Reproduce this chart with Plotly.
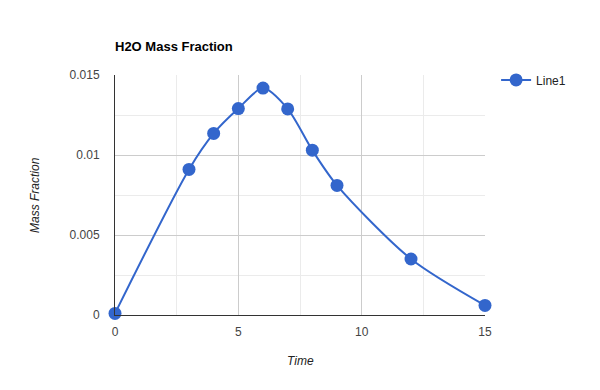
import plotly.graph_objects as go

time = [0, 3, 4, 5, 6, 7, 8, 9, 12, 15]
mass_fraction = [0.0001, 0.0091, 0.01135, 0.0129, 0.01418, 0.01288, 0.0103, 0.0081, 0.0035, 0.0006]
series_name = "Line1"
y_ticks = [0, 0.005, 0.01, 0.015]
y_tick_labels = ["0", "0.005", "0.01", "0.015"]
x_ticks = [0, 5, 10, 15]
x_tick_labels = ["0", "5", "10", "15"]

blue = "#3366cc"
fig = go.Figure()
fig.add_trace(go.Scatter(
    x=time, y=mass_fraction, name=series_name, mode="lines+markers",
    line=dict(color=blue, width=2, shape="spline", smoothing=0.8),
    marker=dict(color=blue, size=13),
    cliponaxis=False,
))

fig.update_layout(
    width=600, height=390,
    margin=dict(l=115, r=115, t=75, b=75),
    paper_bgcolor="white", plot_bgcolor="white",
    font=dict(family="Arial, Liberation Sans", size=12, color="#444444"),
    title=dict(text="<b>H2O Mass Fraction</b>", x=115/600, xanchor="left",
               y=1-46/390, yanchor="middle",
               font=dict(family="Arial, Liberation Sans", size=13, color="#000000")),
    showlegend=True,
    legend=dict(x=1.03, y=1.04, xanchor="left", yanchor="top",
                font=dict(size=12, color="#222222"), bgcolor="rgba(0,0,0,0)"),
    xaxis=dict(range=[0, 15], tickvals=x_ticks, ticktext=x_tick_labels,
               showgrid=True, gridcolor="#cccccc", gridwidth=1,
               zeroline=False, showline=True, linecolor="#333333", linewidth=1,
               ticks="", ticklen=0, ticklabelstandoff=6,
               minor=dict(dtick=2.5, showgrid=True, gridcolor="#ebebeb"),
               mirror=False, fixedrange=True),
    yaxis=dict(range=[0, 0.015], tickvals=y_ticks, ticktext=y_tick_labels,
               showgrid=True, gridcolor="#cccccc", gridwidth=1,
               zeroline=False, showline=True, linecolor="#333333", linewidth=1,
               ticks="", ticklabelstandoff=12,
               minor=dict(dtick=0.0025, showgrid=True, gridcolor="#ebebeb"),
               fixedrange=True),
    annotations=[
        dict(text="<i>Time</i>", x=0.5, xref="paper", y=-46/240, yref="paper",
             showarrow=False, xanchor="center", yanchor="middle",
             font=dict(size=12, color="#222222")),
        dict(text="<i>Mass Fraction</i>", x=-80/370, xref="paper", y=0.5, yref="paper",
             showarrow=False, textangle=-90, xanchor="center", yanchor="middle",
             font=dict(size=12, color="#222222")),
    ],
)

fig.write_html("out.html")
